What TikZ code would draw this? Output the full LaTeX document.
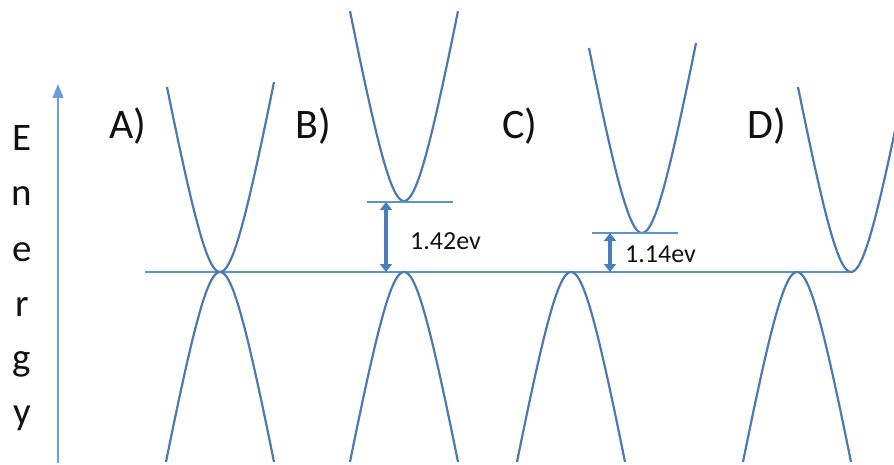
\documentclass[tikz,border=0pt]{standalone}
\usepackage{fontspec}
\setmainfont{Carlito}
\usetikzlibrary{arrows.meta}
\definecolor{bandline}{HTML}{4A7AB0}
\definecolor{axisline}{HTML}{6A9FD8}
\definecolor{levelline}{HTML}{5B93CC}
\definecolor{gaparrow}{HTML}{4A7EBB}
\definecolor{labeltext}{HTML}{111111}

\begin{document}
\begin{tikzpicture}[
  x=1pt, y=-1pt,
  band/.style={draw=bandline, line width=2.2pt},
  level/.style={draw=levelline, line width=1.2pt},
  axis/.style={draw=axisline, line width=1.4pt, -{Triangle[length=14pt, width=11pt]}},
  gap/.style={draw=gaparrow, line width=4.5pt,
              {Triangle[length=8pt, width=12pt]}-{Triangle[length=8pt, width=12pt]}},
  axlab/.style={font=\fontsize{39}{39}\selectfont, text=labeltext, anchor=base, inner sep=0pt},
  panel/.style={font=\fontsize{42}{42}\selectfont, text=labeltext, anchor=base, inner sep=0pt},
  gaplab/.style={font=\fontsize{26}{26}\selectfont, text=labeltext, anchor=west, inner sep=0pt},
]
\useasboundingbox (0,0) rectangle (894,465);
% ---- energy axis ----
\coordinate (axbot) at (58,463);
\coordinate (axtop) at (58,84);
\draw[axis] (axbot) -- (axtop);
\foreach \ch/\yb [count=\i] in {E/151, n/206, e/261, r/316, g/370, y/424}
  \node[axlab] (en\i) at (22,\yb) {\ch};
% ---- panel labels ----
\node[panel] (pA) at (128,139) {A)};
\node[panel] (pB) at (313,139) {B)};
\node[panel] (pC) at (520,139) {C)};
\node[panel] (pD) at (767,139) {D)};
% ---- top of valence band ----
\coordinate (fl) at (145,272);
\coordinate (fr) at (853,272);
\draw[level] (fl) -- (fr);
\begin{scope}
\clip (0,0) rectangle (894,465);
% conduction bands (open upward)
\foreach \vx/\vy/\dl/\dr in {220/272/53/54, 404/201/54/54, 642/233/53/54, 851/272/53/70}
  \draw[band] plot[domain=-\dl:\dr, samples=60]
    ({\vx+\x}, {\vy-(10*sqrt(169+0.293*(\x)*(\x))-130)});
% valence bands (open downward)
\foreach \vx in {220, 404, 571, 797}
  \draw[band] plot[domain=-54:54, samples=60]
    ({\vx+\x}, {272+(10*sqrt(169+0.293*(\x)*(\x))-130)});
\end{scope}
% ---- band gaps ----
\coordinate (cbB) at (367,202);
\coordinate (cbBr) at (453,202);
\draw[level] (cbB) -- (cbBr);
\coordinate (gBtop) at (386,202);
\coordinate (gBbot) at (386,272);
\draw[gap] (gBtop) -- (gBbot);
\node[gaplab] (lB) at (410,241) {1.42ev};
\coordinate (cbC) at (592,233);
\coordinate (cbCr) at (678,233);
\draw[level] (cbC) -- (cbCr);
\coordinate (gCtop) at (610,233);
\coordinate (gCbot) at (610,272);
\draw[gap, line width=3.5pt] (gCtop) -- (gCbot);
\node[gaplab] (lC) at (625,254) {1.14ev};
\end{tikzpicture}
\end{document}
